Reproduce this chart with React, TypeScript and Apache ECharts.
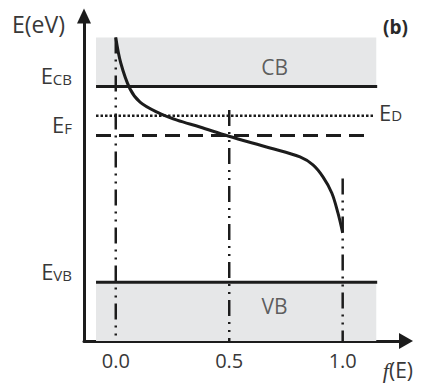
import React, { useEffect, useRef } from 'react';
import * as echarts from 'echarts';

// Fermi-Dirac occupation curve: f(E) and E (eV, relative to E_VB)
const curveF = [0.0, 0.022, 0.063, 0.107, 0.182, 0.27, 0.371, 0.495, 0.68, 0.812, 0.869, 0.913, 0.952, 0.979, 1.0];
const curveE = [1.25, 1.12, 0.987, 0.92, 0.869, 0.828, 0.793, 0.747, 0.686, 0.64, 0.599, 0.538, 0.456, 0.354, 0.252];

// energy levels
const levelNames = ['VB', 'F', 'CB'];
const levelEnergies = [0, 0.75, 1.0];
const donorName = 'D';
const donorEnergy = 0.85;
const cbTopEnergy = 1.25;
const axisMinEnergy = -0.3;

// band labels
const bandNames = ['CB', 'VB'];
const bandLabelF = [0.7, 0.7];
const bandLabelE = [1.1, -0.12];

// guide lines (f value, top energy)
const guideF = [0, 0.5, 1.0];
const guideTopE = [1.25, 0.88, 0.53];

const xTicks = [0, 0.5, 1.0];

const FONT = '"Open Sans", "DejaVu Sans", sans-serif';
const TXT = '#383838';
const INK = '#1c1c1c';
const GREY = '#e6e7e8';
const LEFT = -0.087;
const RIGHT = 1.152;

const rich = {
  e: { fontSize: 22, lineHeight: 22, verticalAlign: 'top' as const, color: TXT, fontFamily: FONT },
  s: { fontSize: 15, lineHeight: 15, verticalAlign: 'bottom' as const, padding: [10, 0, 0, 0], color: TXT, fontFamily: FONT },
};

export default function App() {
  const ref = useRef<HTMLDivElement>(null);
  useEffect(() => {
    document.body.style.margin = '0';
    const chart = echarts.init(ref.current!, null, { renderer: 'svg' });
    const curve = curveF.map((f, i) => [f, curveE[i]]);
    const hLine = (e: number, l = LEFT, r = RIGHT) => [[l, e], [r, e]];
    const series: any[] = [
      {
        type: 'line',
        data: [],
        z: 1,
        silent: true,
        markArea: {
          silent: true,
          itemStyle: { color: GREY },
          data: [
            [{ xAxis: LEFT, yAxis: levelEnergies[2] }, { xAxis: RIGHT - 0.004, yAxis: cbTopEnergy }],
            [{ xAxis: LEFT, yAxis: axisMinEnergy }, { xAxis: RIGHT - 0.004, yAxis: levelEnergies[0] }],
          ],
        },
      },
    ];
    guideF.forEach((f, i) => {
      series.push({
        type: 'line',
        data: [[f, guideTopE[i]], [f, axisMinEnergy]],
        symbol: 'none',
        z: 2,
        lineStyle: { color: INK, width: 2.5, type: [16, 6, 2, 6, 2, 6] },
      });
    });
    // VB and CB edges
    [0, 2].forEach((k) => {
      series.push({
        type: 'line',
        data: hLine(levelEnergies[k]),
        symbol: 'none',
        z: 3,
        lineStyle: { color: INK, width: 3 },
      });
    });
    // Fermi level dashed
    series.push({
      type: 'line',
      data: hLine(levelEnergies[1], LEFT, 1.117),
      symbol: 'none',
      z: 3,
      lineStyle: { color: INK, width: 3, type: [15, 8] },
    });
    // donor level dotted
    series.push({
      type: 'line',
      data: hLine(donorEnergy, LEFT, 1.138),
      symbol: 'none',
      z: 3,
      lineStyle: { color: INK, width: 2.5, type: [2.5, 2] },
      endLabel: {
        show: true,
        formatter: '{e|E}{s|' + donorName + '}',
        rich,
        distance: 5,
        offset: [0, -4],
      },
    });
    series.push({
      type: 'line',
      data: curve,
      symbol: 'none',
      smooth: 0.35,
      z: 4,
      lineStyle: { color: INK, width: 3 },
    });
    series.push({
      type: 'scatter',
      data: bandNames.map((n, i) => [bandLabelF[i], bandLabelE[i], n]),
      symbolSize: 0,
      z: 5,
      label: {
        show: true,
        position: 'inside',
        formatter: (p: any) => p.data[2],
        fontSize: 21,
        color: TXT,
        fontFamily: FONT,
      },
    });

    chart.setOption({
      animation: false,
      title: {
        text: '(b)',
        left: 378,
        top: 12,
        textStyle: { fontSize: 19, fontWeight: 'bold', color: '#2a2a2a', fontFamily: FONT },
      },
      grid: { left: 84, top: 16, width: 322, height: 325 },
      xAxis: {
        type: 'value',
        min: -0.14,
        max: 1.279,
        splitLine: { show: false },
        axisTick: { show: false },
        axisLine: {
          show: true,
          onZero: false,
          symbol: ['none', 'triangle'],
          symbolSize: [16, 14],
          lineStyle: { color: INK, width: 3 },
        },
        axisLabel: {
          customValues: xTicks,
          formatter: (v: number) => v.toFixed(1),
          fontSize: 20,
          color: TXT,
          fontFamily: FONT,
          margin: 9,
        },
        name: '{i|f}(E)',
        nameLocation: 'end',
        nameGap: 7,
        nameTextStyle: {
          align: 'right',
          verticalAlign: 'top',
          padding: [18, 0, 0, 0],
          fontSize: 21,
          color: TXT,
          fontFamily: FONT,
          rich: { i: { fontStyle: 'italic', fontSize: 22, fontFamily: '"Liberation Serif", serif', color: TXT } },
        },
      },
      yAxis: {
        type: 'value',
        min: axisMinEnergy,
        max: 1.36,
        splitLine: { show: false },
        axisTick: { show: false },
        axisLine: {
          show: true,
          onZero: false,
          symbol: ['none', 'triangle'],
          symbolSize: [14, 15],
          lineStyle: { color: INK, width: 3 },
        },
        axisLabel: {
          customValues: levelEnergies,
          formatter: (v: number) => {
            let idx = 0;
            levelEnergies.forEach((e, i) => { if (Math.abs(e - v) < 1e-6) idx = i; });
            return '{e|E}{s|' + levelNames[idx] + '}';
          },
          rich,
          verticalAlign: 'bottom',
          margin: 12,
        },
        name: 'E(eV)',
        nameLocation: 'end',
        nameGap: -8,
        nameTextStyle: {
          align: 'right',
          verticalAlign: 'middle',
          padding: [0, 19, 0, 0],
          fontSize: 23,
          color: TXT,
          fontFamily: FONT,
        },
      },
      series,
    });
    return () => chart.dispose();
  }, []);
  return <div ref={ref} style={{ width: 424, height: 384 }} />;
}
